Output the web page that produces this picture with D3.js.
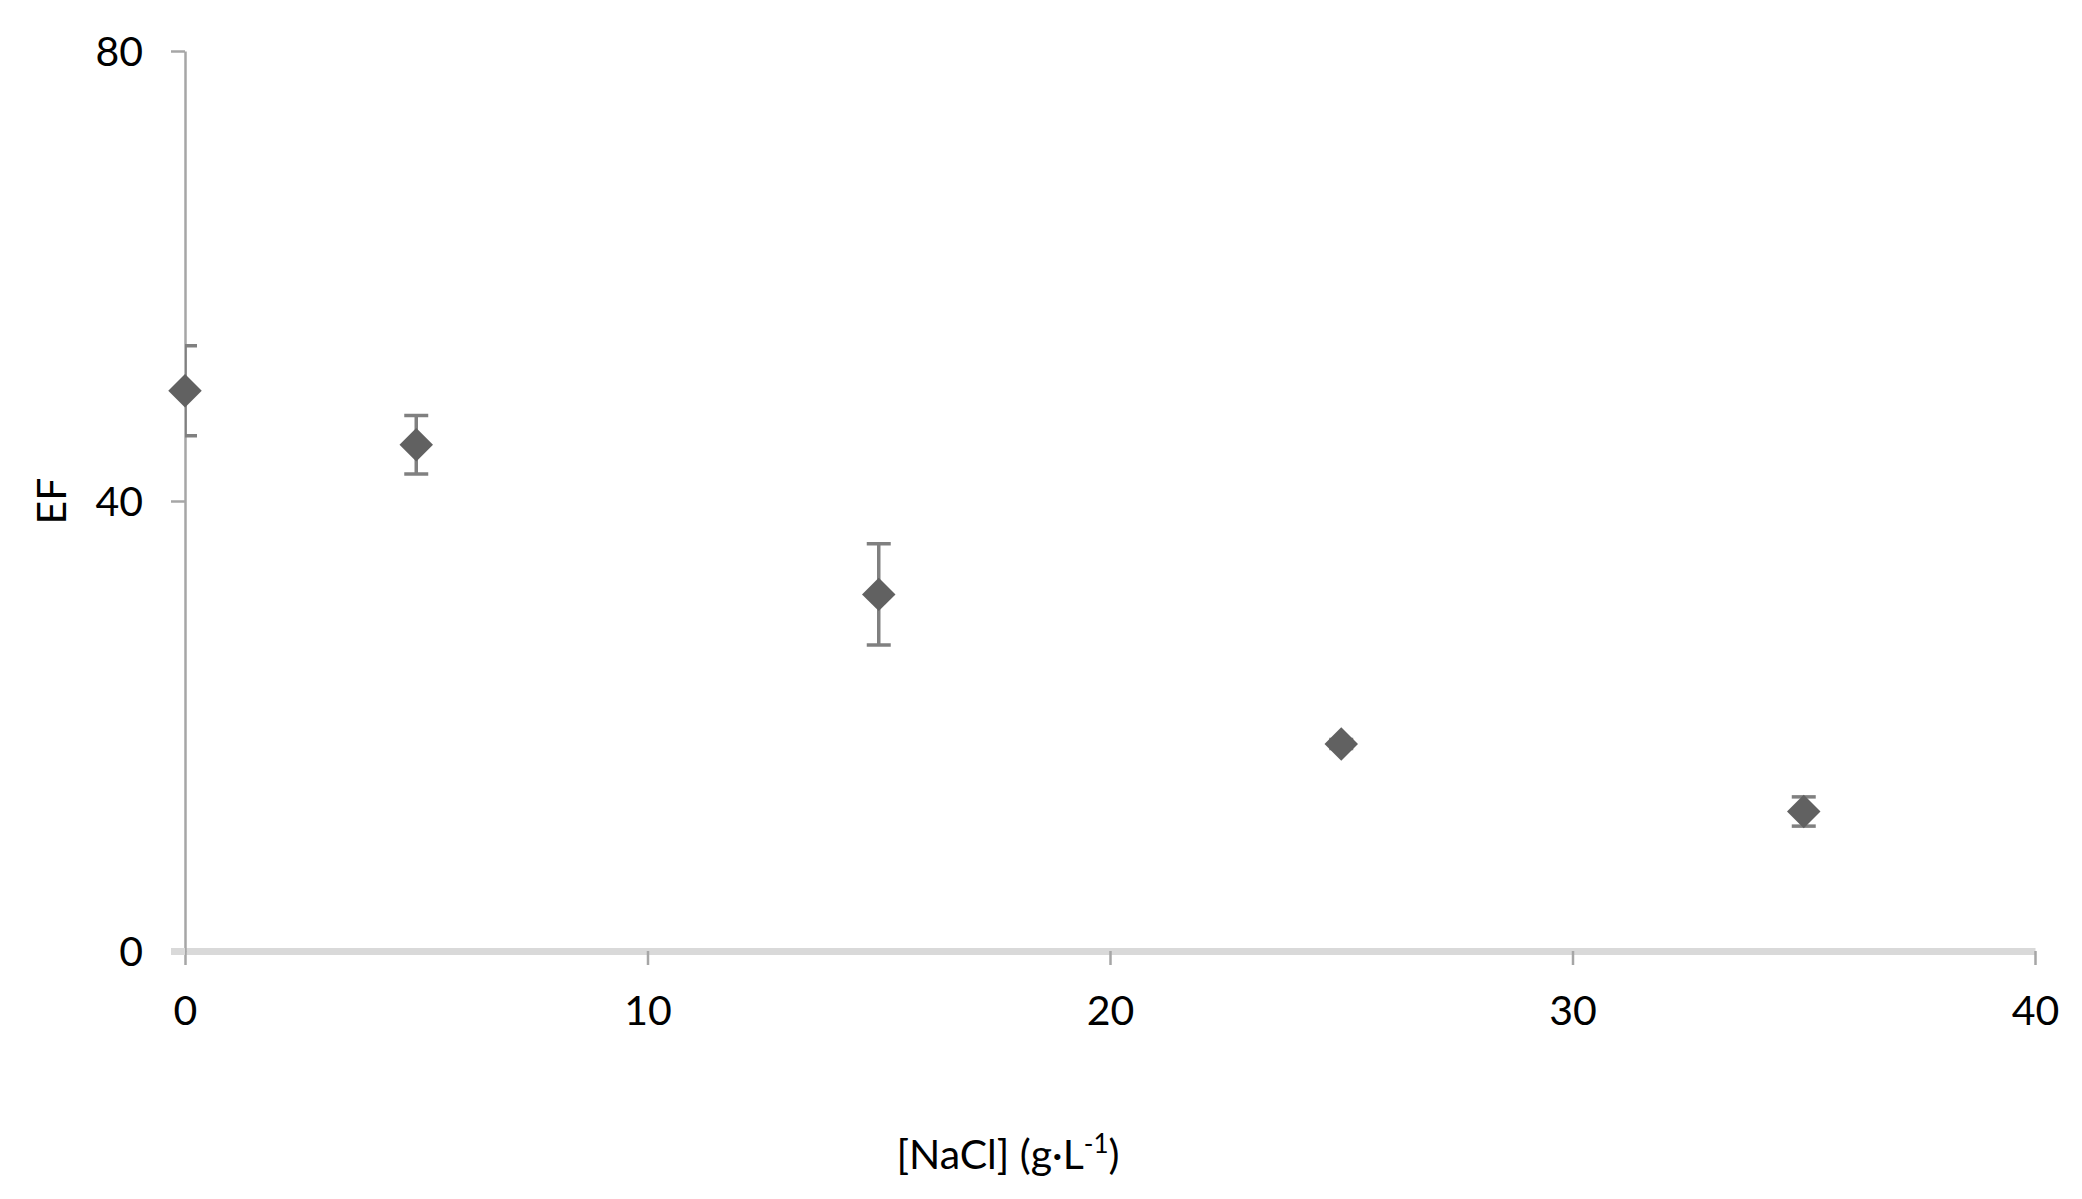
<!DOCTYPE html>
<html>
<head>
<meta charset="utf-8">
<script src="https://cdn.jsdelivr.net/npm/d3@7"></script>
<style>
  html, body { margin: 0; padding: 0; background: #fff; }
  svg { display: block; }
  text { font-family: Lato, 'Open Sans', sans-serif; fill: #000; }
</style>
</head>
<body>
<svg id="chart" width="2082" height="1199"></svg>
<script>
// data
var nacl = [0, 5, 15, 25, 35]
var ef = [49.8, 45.0, 31.7, 18.4, 12.4]
var efErr = [4.0, 2.6, 4.5, 0.4, 1.3]
var xTicks = [0, 10, 20, 30, 40]
var yTicks = [0, 40, 80]

var svg = d3.select('#chart')
var W = 2082
var H = 1199

// plot area
var margin = {top: 51, right: 47, bottom: 248, left: 185}
var x = d3.scaleLinear().domain([0, 40]).range([margin.left, W - margin.right])
var y = d3.scaleLinear().domain([0, 80]).range([H - margin.bottom, margin.top])

svg.append('rect').attr('width', W).attr('height', H).attr('fill', '#fff')

// clip for the error bars (the one on the axis gets cut in half)
svg.append('clipPath').attr('id', 'plotclip')
  .append('rect')
  .attr('x', x(0)).attr('y', 0)
  .attr('width', x(40) - x(0)).attr('height', H)

// x axis
var xAxis = d3.axisBottom(x).tickValues(xTicks).tickSize(14).tickSizeOuter(0).tickPadding(0)
var gx = svg.append('g')
  .attr('transform', 'translate(0,' + y(0) + ')')
  .call(xAxis)
gx.select('.domain').attr('stroke', '#d9d9d9').attr('stroke-width', 7)
gx.selectAll('.tick line').attr('stroke', '#a6a6a6').attr('stroke-width', 2.5)
gx.selectAll('.tick text')
  .attr('y', 59).attr('dy', '0.36em')
  .attr('font-size', 41).attr('fill', '#000')

// y axis
var yAxis = d3.axisLeft(y).tickValues(yTicks).tickSize(14).tickSizeOuter(0).tickPadding(28)
var gy = svg.append('g')
  .attr('transform', 'translate(' + x(0) + ',0)')
  .call(yAxis)
gy.select('.domain').attr('stroke', '#a6a6a6').attr('stroke-width', 2.5)
gy.selectAll('.tick line').attr('stroke', '#a6a6a6').attr('stroke-width', 2.5)
gy.selectAll('.tick').filter(function (d) { return d === 0 })
  .select('line').attr('stroke', '#d9d9d9').attr('stroke-width', 7)
gy.selectAll('.tick text')
  .attr('dy', '0.36em')
  .attr('font-size', 41).attr('fill', '#000')
gy.attr('font-family', null)
gx.attr('font-family', null)

// axis titles
svg.append('text')
  .attr('transform', 'translate(51,' + y(40) + ') rotate(-90)')
  .attr('text-anchor', 'middle')
  .attr('dy', '0.36em')
  .attr('font-size', 41)
  .text('EF')

var xt = svg.append('text')
  .attr('x', 1008).attr('y', 1154)
  .attr('text-anchor', 'middle')
  .attr('dy', '0.36em')
  .attr('font-size', 41)
xt.append('tspan').text('[NaCl] (g·L')
xt.append('tspan').attr('font-size', 26).attr('dy', '-0.6em').text('-1')
xt.append('tspan').attr('dy', '0.38em').text(')')

// error bars
var pts = nacl.map(function (v, i) { return {x: v, y: ef[i], e: efErr[i]} })
var eb = svg.append('g').attr('clip-path', 'url(#plotclip)')
  .selectAll('g').data(pts).enter().append('g')
  .attr('stroke', '#808080').attr('stroke-width', 3.5)
eb.append('line')
  .attr('x1', function (d) { return x(d.x) }).attr('x2', function (d) { return x(d.x) })
  .attr('y1', function (d) { return y(d.y + d.e) }).attr('y2', function (d) { return y(d.y - d.e) })
eb.append('line')
  .attr('x1', function (d) { return x(d.x) - 12 }).attr('x2', function (d) { return x(d.x) + 12 })
  .attr('y1', function (d) { return y(d.y + d.e) }).attr('y2', function (d) { return y(d.y + d.e) })
eb.append('line')
  .attr('x1', function (d) { return x(d.x) - 12 }).attr('x2', function (d) { return x(d.x) + 12 })
  .attr('y1', function (d) { return y(d.y - d.e) }).attr('y2', function (d) { return y(d.y - d.e) })

// diamond markers
var diamond = d3.symbol().type(d3.symbolSquare).size(560)
svg.append('g').selectAll('path').data(pts).enter().append('path')
  .attr('d', diamond)
  .attr('transform', function (d) { return 'translate(' + x(d.x) + ',' + y(d.y) + ') rotate(45)' })
  .attr('fill', '#616161')
</script>
</body>
</html>
